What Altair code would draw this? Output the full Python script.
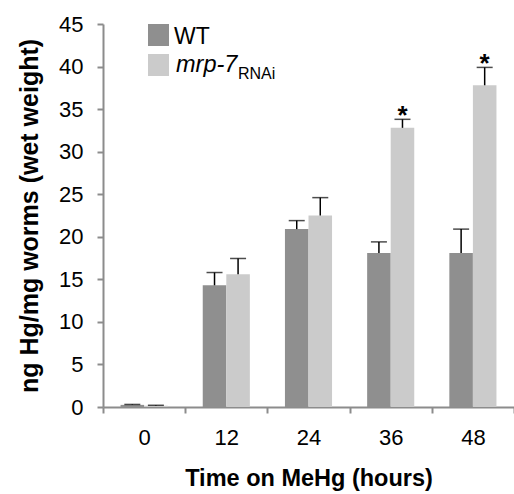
import altair as alt
import pandas as pd

times = ["0", "12", "24", "36", "48"]
groups = ["WT", "mrp-7"]
wt_values = [0.25, 14.3, 20.9, 18.1, 18.1]
wt_errors = [0.05, 1.5, 1.0, 1.3, 2.8]
mrp_values = [0.15, 15.6, 22.5, 32.8, 37.8]
mrp_errors = [0.05, 1.85, 2.1, 1.0, 2.1]
mrp_signif = [False, False, False, True, True]
colors = ["#8f8f8f", "#cbcbcb"]

rows = []
for i, t in enumerate(times):
    rows.append({"time": t, "group": "WT", "value": wt_values[i], "top": wt_values[i] + wt_errors[i], "star": ""})
    rows.append({"time": t, "group": "mrp-7", "value": mrp_values[i], "top": mrp_values[i] + mrp_errors[i],
                 "star": "*" if mrp_signif[i] else ""})
df = pd.DataFrame(rows)
one = pd.DataFrame({"k": [0]})

FONT = "Liberation Sans"

x_enc = alt.X("time:N", sort=times, scale=alt.Scale(paddingInner=0, paddingOuter=0),
              axis=alt.Axis(title="Time on MeHg (hours)", tickBand="extent", labelAngle=0,
                            labelFontSize=22, labelFont=FONT, labelColor="#000000", labelPadding=14,
                            tickSize=6, tickColor="#8c8c8c", tickWidth=2,
                            domainColor="#8c8c8c", domainWidth=2,
                            titleFont=FONT, titleFontSize=23.5, titleFontWeight="bold", titleColor="#000000",
                            titleY=71, titleBaseline="middle"))
xo_enc = alt.XOffset("group:N", sort=groups, scale=alt.Scale(paddingInner=0, paddingOuter=0.745))
y_scale = alt.Scale(domain=[0, 45], nice=False)

bars = alt.Chart(df).mark_bar().encode(
    x=x_enc,
    xOffset=xo_enc,
    y=alt.Y("value:Q", scale=y_scale,
            axis=alt.Axis(title="ng Hg/mg worms (wet weight)",
                          values=[i * 2.5 for i in range(19)],
                          labelExpr="datum.value % 5 == 0 ? datum.label : ''",
                          labelOverlap=False, labelFontSize=22, labelFont=FONT, labelColor="#000000",
                          labelPadding=14, tickSize=6, tickColor="#8c8c8c", tickWidth=2,
                          domainColor="#8c8c8c", domainWidth=2, grid=False,
                          titleFont=FONT, titleFontSize=25, titleFontWeight="bold", titleColor="#000000",
                          titleX=-74, titleY=191.5, titleBaseline="middle", titleAlign="center")),
    color=alt.Color("group:N", sort=groups, scale=alt.Scale(domain=groups, range=colors), legend=None),
)

err_rule = alt.Chart(df).mark_rule(color="#000000", strokeWidth=1.5).encode(
    x=alt.X("time:N", sort=times), xOffset=xo_enc,
    y=alt.Y("value:Q", scale=y_scale), y2="top:Q")

err_cap = alt.Chart(df).mark_tick(color="#000000", thickness=1.5, size=16).encode(
    x=alt.X("time:N", sort=times), xOffset=xo_enc,
    y=alt.Y("top:Q", scale=y_scale))

stars = alt.Chart(df).mark_text(font=FONT, fontSize=26, fontWeight="bold", color="#000000",
                                baseline="alphabetic", dy=5).encode(
    x=alt.X("time:N", sort=times), xOffset=xo_enc,
    y=alt.Y("top:Q", scale=y_scale), text="star:N")

# manual legend (mixed italic / subscript text)
leg_wt = alt.Chart(one).mark_rect(color=colors[0]).encode(
    x=alt.value(45), x2=alt.value(66), y=alt.value(0), y2=alt.value(22))
leg_mrp = alt.Chart(one).mark_rect(color=colors[1]).encode(
    x=alt.value(45), x2=alt.value(66), y=alt.value(30), y2=alt.value(52))
leg_t1 = alt.Chart(one).mark_text(text="WT", font=FONT, fontSize=23, align="left",
                                  baseline="alphabetic", color="#000000").encode(
    x=alt.value(71), y=alt.value(20))
leg_t2 = alt.Chart(one).mark_text(text="mrp-7", font=FONT, fontSize=23.5, fontStyle="italic", align="left",
                                  baseline="alphabetic", color="#000000").encode(
    x=alt.value(73), y=alt.value(48))
leg_t3 = alt.Chart(one).mark_text(text="RNAi", font=FONT, fontSize=16, align="left",
                                  baseline="alphabetic", color="#000000").encode(
    x=alt.value(135), y=alt.value(55))

chart = alt.layer(bars, err_rule, err_cap, stars, leg_wt, leg_mrp, leg_t1, leg_t2, leg_t3).properties(
    width=411, height=383,
    autosize=alt.AutoSizeParams(type="none"),
    padding={"left": 103, "top": 24, "right": 0, "bottom": 87},
    background="white",
).configure_view(stroke=None)

chart.save("out.html", embed_options={"renderer": "svg", "actions": False})
